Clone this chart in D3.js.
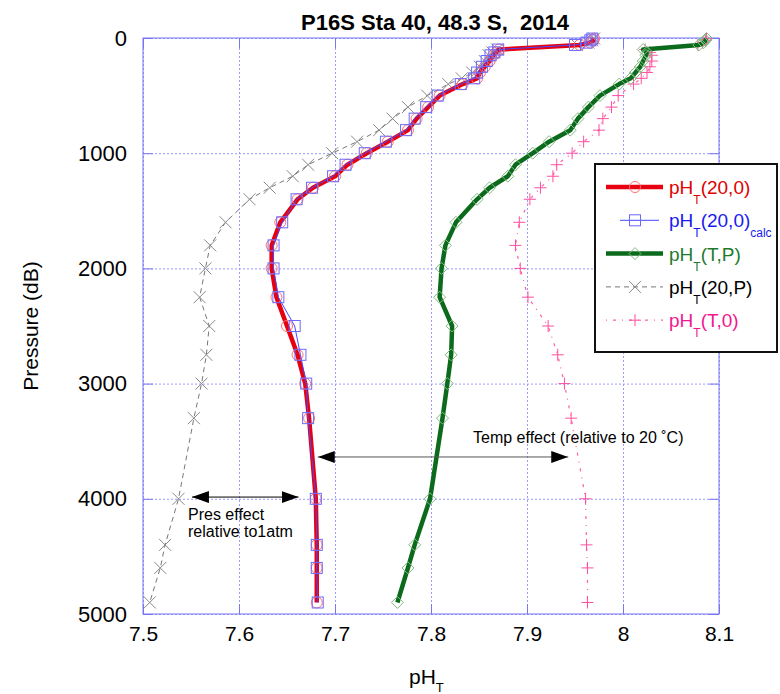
<!DOCTYPE html>
<html>
<head>
<meta charset="utf-8">
<script src="https://cdn.jsdelivr.net/npm/d3@7"></script>
<style>
body { margin: 0; background: #fff; }
text { font-family: Arial, "Liberation Sans", sans-serif; white-space: pre; }
</style>
</head>
<body>
<div id="chart"></div>
<script>
// bottle pressures (dB)
var pressure = [5, 20, 40, 60, 100, 125, 150, 200, 250, 300, 350, 400, 500, 600, 700, 800, 900, 1000,
  1100, 1200, 1300, 1400, 1600, 1800, 2000, 2250, 2500, 2750, 3000, 3300, 4000, 4400, 4600, 4900];

// pH_T(20,0) measured
var ph20_0 = [7.970, 7.969, 7.966, 7.955, 7.871, 7.868, 7.865, 7.861, 7.856, 7.851, 7.848, 7.833, 7.809, 7.797, 7.785, 7.776, 7.755, 7.733,
  7.713, 7.700, 7.677, 7.661, 7.643, 7.634, 7.634, 7.639, 7.650, 7.661, 7.669, 7.673, 7.680, 7.681, 7.681, 7.681];

// pH_T(20,0) calculated
var ph20_0calc = [7.968, 7.966, 7.962, 7.950, 7.870, 7.866, 7.862, 7.858, 7.853, 7.848, 7.845, 7.831, 7.807, 7.795, 7.783, 7.774, 7.753, 7.731,
  7.711, 7.698, 7.676, 7.660, 7.645, 7.636, 7.636, 7.641, 7.658, 7.664, 7.670, 7.672, 7.680, 7.681, 7.681, 7.682];

// pH_T(T,P)
var phTP = [8.087, 8.086, 8.084, 8.079, 8.021, 8.025, 8.024, 8.021, 8.018, 8.013, 8.008, 7.996, 7.976, 7.964, 7.953, 7.945, 7.923, 7.906,
  7.888, 7.880, 7.861, 7.848, 7.826, 7.815, 7.811, 7.809, 7.822, 7.821, 7.817, 7.812, 7.799, 7.783, 7.776, 7.765];

// pH_T(20,P)
var ph20P = [7.970, 7.968, 7.964, 7.952, 7.869, 7.864, 7.860, 7.856, 7.851, 7.843, 7.832, 7.818, 7.796, 7.776, 7.760, 7.746, 7.723, 7.697,
  7.672, 7.656, 7.632, 7.611, 7.586, 7.570, 7.565, 7.559, 7.569, 7.566, 7.561, 7.553, 7.537, 7.523, 7.518, 7.507];

// pH_T(T,0)
var phT0 = [8.087, 8.086, 8.083, 8.078, 8.023, 8.028, 8.030, 8.030, 8.028, 8.025, 8.019, 8.011, 7.995, 7.988, 7.979, 7.975, 7.959, 7.947,
  7.931, 7.927, 7.914, 7.903, 7.892, 7.888, 7.893, 7.901, 7.922, 7.932, 7.939, 7.946, 7.961, 7.962, 7.963, 7.963];

var xTicks = [7.5, 7.6, 7.7, 7.8, 7.9, 8, 8.1];
var yTicks = [0, 1000, 2000, 3000, 4000, 5000];

// annotation arrows, in data units
var presArrow = {x1: 7.551, x2: 7.662, p: 3985};
var tempArrow = {x1: 7.682, x2: 7.943, p: 3637};

var W = 780, H = 694;
var pLeft = 143, pRight = 719, pTop = 38, pBottom = 614;

var x = d3.scaleLinear().domain([7.5, 8.1]).range([pLeft, pRight]);
var y = d3.scaleLinear().domain([0, 5000]).range([pTop, pBottom]);

var svg = d3.select("#chart").append("svg")
    .attr("width", W)
    .attr("height", H);

var defs = svg.append("defs");
defs.append("marker")
    .attr("id", "head")
    .attr("viewBox", "0 0 17 12")
    .attr("refX", 17).attr("refY", 6)
    .attr("markerWidth", 17).attr("markerHeight", 12)
    .attr("markerUnits", "userSpaceOnUse")
    .attr("orient", "auto-start-reverse")
  .append("path")
    .attr("d", "M0,0 L17,6 L0,12 Z")
    .attr("fill", "#000");

var gridColor = "#9a9aff", frameColor = "#7777f2";

// grid
svg.append("g")
    .attr("transform", "translate(0," + pBottom + ")")
    .call(d3.axisBottom(x).tickValues(xTicks).tickSize(-(pBottom - pTop)).tickFormat(""))
    .call(function(g) { g.select(".domain").remove(); })
    .selectAll("line").attr("stroke", gridColor).attr("stroke-dasharray", "2,2");

svg.append("g")
    .attr("transform", "translate(" + pLeft + ",0)")
    .call(d3.axisLeft(y).tickValues(yTicks).tickSize(-(pRight - pLeft)).tickFormat(""))
    .call(function(g) { g.select(".domain").remove(); })
    .selectAll("line").attr("stroke", gridColor).attr("stroke-dasharray", "2,2");

// inner solid ticks
function innerTicks(axis, tx, ty) {
  svg.append("g")
      .attr("transform", "translate(" + tx + "," + ty + ")")
      .call(axis.tickSize(-10).tickFormat(""))
      .call(function(g) { g.select(".domain").remove(); })
      .selectAll("line").attr("stroke", frameColor);
}
innerTicks(d3.axisBottom(x).tickValues(xTicks), 0, pBottom);
innerTicks(d3.axisTop(x).tickValues(xTicks), 0, pTop);
innerTicks(d3.axisLeft(y).tickValues(yTicks), pLeft, 0);
innerTicks(d3.axisRight(y).tickValues(yTicks), pRight, 0);

svg.append("rect")
    .attr("x", pLeft).attr("y", pTop)
    .attr("width", pRight - pLeft).attr("height", pBottom - pTop)
    .attr("fill", "none").attr("stroke", frameColor).attr("stroke-width", 1);

// tick labels
var xAx = svg.append("g")
    .attr("transform", "translate(0," + pBottom + ")")
    .call(d3.axisBottom(x).tickValues(xTicks).tickSize(0).tickPadding(12).tickFormat(d3.format("")));
xAx.select(".domain").remove();
xAx.selectAll("text").attr("font-size", 21).attr("fill", "#000").attr("font-family", "Arial, 'Liberation Sans', sans-serif");

var yAx = svg.append("g")
    .attr("transform", "translate(" + (pLeft - 16) + ",0)")
    .call(d3.axisLeft(y).tickValues(yTicks).tickSize(0).tickPadding(0).tickFormat(d3.format("d")));
yAx.select(".domain").remove();
yAx.selectAll("text").attr("font-size", 22).attr("fill", "#000").attr("font-family", "Arial, 'Liberation Sans', sans-serif");

// titles
svg.append("text")
    .attr("x", 435).attr("y", 30)
    .attr("text-anchor", "middle")
    .attr("font-size", 22).attr("font-weight", "bold")
    .text("P16S Sta 40, 48.3 S,  2014");

svg.append("text")
    .attr("transform", "translate(38,326) rotate(-90)")
    .attr("text-anchor", "middle")
    .attr("font-size", 21)
    .text("Pressure (dB)");

var xt = svg.append("text")
    .attr("x", 409).attr("y", 684)
    .attr("font-size", 21);
xt.append("tspan").text("pH");
xt.append("tspan").attr("font-size", 13).attr("dy", 8).text("T");

// series
var rows = pressure.map(function(p, i) {
  return {p: p, a: ph20_0[i], b: ph20_0calc[i], c: phTP[i], d: ph20P[i], e: phT0[i]};
});

function lineFor(key) {
  return d3.line().x(function(d) { return x(d[key]); }).y(function(d) { return y(d.p); });
}

var series = [
  {key: "d", color: "#777", width: 1, dash: "5,4", marker: "x", mcolor: "#888"},
  {key: "e", color: "#ff5fa8", width: 1.2, dash: "1,6,3,6", marker: "plus", mcolor: "#ff4f9f"},
  {key: "c", color: "#0b6a1c", width: 4.5, dash: null, marker: "diamond", mcolor: "#80bc80"},
  {key: "a", color: "#e60010", width: 4.5, dash: null, marker: "circle", mcolor: "#ff7070"},
  {key: "b", color: "#4848ff", width: 1, dash: null, marker: "square", mcolor: "#6a6aff"}
];

function drawMarker(g, type, cx, cy, color) {
  if (type === "circle") {
    g.append("circle").attr("cx", cx).attr("cy", cy).attr("r", 5.5)
      .attr("fill", "none").attr("stroke", color).attr("stroke-width", 1);
  } else if (type === "square") {
    g.append("rect").attr("x", cx - 5.5).attr("y", cy - 5.5).attr("width", 11).attr("height", 11)
      .attr("fill", "none").attr("stroke", color).attr("stroke-width", 1);
  } else if (type === "diamond") {
    g.append("path").attr("d", "M" + cx + "," + (cy - 6) + "L" + (cx + 6) + "," + cy + "L" + cx + "," + (cy + 6) + "L" + (cx - 6) + "," + cy + "Z")
      .attr("fill", "none").attr("stroke", color).attr("stroke-width", 1);
  } else if (type === "x") {
    g.append("path").attr("d", "M" + (cx - 6) + "," + (cy - 6) + "L" + (cx + 6) + "," + (cy + 6) + "M" + (cx - 6) + "," + (cy + 6) + "L" + (cx + 6) + "," + (cy - 6))
      .attr("stroke", color).attr("stroke-width", 1);
  } else if (type === "plus") {
    g.append("path").attr("d", "M" + (cx - 6) + "," + cy + "L" + (cx + 6) + "," + cy + "M" + cx + "," + (cy - 6) + "L" + cx + "," + (cy + 6))
      .attr("stroke", color).attr("stroke-width", 1);
  }
}

series.forEach(function(s) {
  var g = svg.append("g");
  g.append("path")
      .datum(rows)
      .attr("fill", "none")
      .attr("stroke", s.color)
      .attr("stroke-width", s.width)
      .attr("stroke-linejoin", "round")
      .attr("stroke-dasharray", s.dash)
      .attr("d", lineFor(s.key));
  rows.forEach(function(d) {
    drawMarker(g, s.marker, x(d[s.key]), y(d.p), s.mcolor);
  });
});

// annotations
[presArrow, tempArrow].forEach(function(a, i) {
  svg.append("line")
      .attr("x1", x(a.x1)).attr("x2", x(a.x2))
      .attr("y1", y(a.p)).attr("y2", y(a.p))
      .attr("stroke", i === 0 ? "#000" : "#555").attr("stroke-width", 1)
      .attr("marker-start", "url(#head)")
      .attr("marker-end", "url(#head)");
});

svg.append("text").attr("x", 188).attr("y", 520).attr("font-size", 16).text("Pres effect");
svg.append("text").attr("x", 188).attr("y", 537).attr("font-size", 16).text("relative to1atm");
svg.append("text").attr("x", 473).attr("y", 443).attr("font-size", 16).text("Temp effect (relative to 20 \u02DAC)");

// legend
var legendLabels = ["(20,0)", "(20,0)", "(T,P)", "(20,P)", "(T,0)"];
var legendColors = ["#e00000", "#1a1aee", "#1d7a2c", "#000", "#f01890"];
var legendOrder = ["a", "b", "c", "d", "e"];

svg.append("rect")
    .attr("x", 595).attr("y", 164)
    .attr("width", 182).attr("height", 188)
    .attr("fill", "#fff").attr("stroke", "#111").attr("stroke-width", 2);

legendOrder.forEach(function(k, i) {
  var s = series.filter(function(d) { return d.key === k; })[0];
  var ly = 187 + i * 33.3;
  var g = svg.append("g");
  g.append("line")
      .attr("x1", k === "b" ? 620 : 606).attr("x2", k === "b" ? 659 : 663)
      .attr("y1", ly).attr("y2", ly)
      .attr("stroke", s.color).attr("stroke-width", s.width)
      .attr("stroke-dasharray", s.dash);
  drawMarker(g, s.marker, 635, ly, s.mcolor);
  var t = g.append("text")
      .attr("x", 669).attr("y", ly + 7)
      .attr("font-size", 19)
      .attr("fill", legendColors[i]);
  t.append("tspan").text("pH");
  t.append("tspan").attr("font-size", 12).attr("dy", 10).text("T");
  t.append("tspan").attr("dy", -10).text(legendLabels[i]);
  if (k === "b") t.append("tspan").attr("font-size", 12).attr("dy", 10).text("calc");
});
</script>
</body>
</html>
